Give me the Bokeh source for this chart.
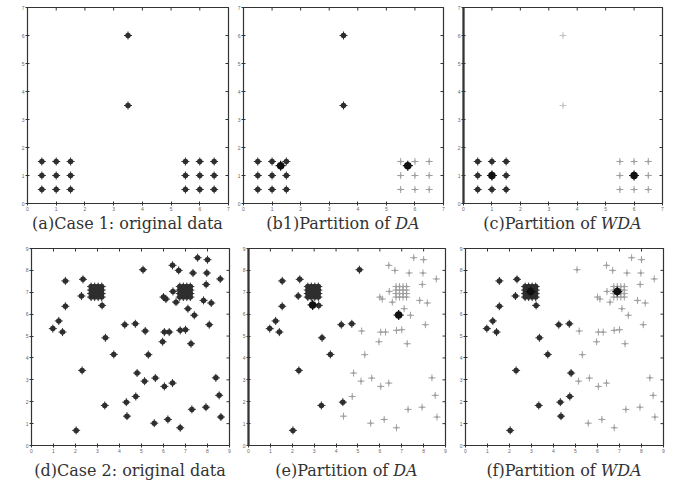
import math
from bokeh.plotting import figure
from bokeh.models import Range1d, FixedTicker, Div
from bokeh.layouts import column, row
from bokeh.embed import file_html
from bokeh.resources import INLINE

# ---------------- data ----------------
case1_ticks = [0, 1, 2, 3, 4, 5, 6, 7]
case2_ticks = [0, 1, 2, 3, 4, 5, 6, 7, 8, 9]

case1_x = [0.5, 1.0, 1.5, 0.5, 1.0, 1.5, 0.5, 1.0, 1.5,
           5.5, 6.0, 6.5, 5.5, 6.0, 6.5, 5.5, 6.0, 6.5,
           3.5, 3.5]
case1_y = [0.5, 0.5, 0.5, 1.0, 1.0, 1.0, 1.5, 1.5, 1.5,
           0.5, 0.5, 0.5, 1.0, 1.0, 1.0, 1.5, 1.5, 1.5,
           3.5, 6.0]
case1_label_b = [0, 0, 0, 0, 0, 0, 0, 0, 0,
                 1, 1, 1, 1, 1, 1, 1, 1, 1,
                 0, 0]
case1_label_c = [0, 0, 0, 0, 0, 0, 0, 0, 0,
                 1, 1, 1, 1, 1, 1, 1, 1, 1,
                 2, 2]
centers_b_x = [1.3, 5.75]
centers_b_y = [1.35, 1.35]
centers_c_x = [1.0, 6.0]
centers_c_y = [1.0, 1.0]

case2_x = [7.55, 8.00, 6.41, 6.69, 5.07, 7.34, 7.97, 8.58, 1.54, 2.34,
           7.94, 2.27, 6.43, 6.00, 6.11, 6.57, 7.82, 8.17, 3.21, 1.54,
           7.11, 7.40, 1.24, 0.97, 1.41, 4.24, 4.72, 5.17, 8.08, 6.04,
           6.26, 6.76, 7.00, 3.36, 5.96, 7.25, 3.74, 5.31, 2.30, 4.80,
           5.14, 5.63, 6.04, 6.41, 8.38, 8.53, 4.74, 4.31, 3.33, 7.29,
           7.93, 8.61, 4.34, 5.58, 6.20, 6.76, 2.03]
case2_y = [8.58, 8.49, 8.23, 8.00, 8.03, 7.88, 7.88, 7.61, 7.52, 7.59,
           7.36, 6.83, 7.04, 6.78, 6.69, 6.55, 6.63, 6.51, 6.40, 6.36,
           6.25, 5.95, 5.69, 5.34, 5.18, 5.52, 5.56, 5.23, 5.52, 5.18,
           5.18, 5.26, 5.29, 4.92, 4.74, 4.65, 4.16, 4.15, 3.43, 3.31,
           2.94, 3.08, 2.70, 2.85, 3.09, 2.29, 2.24, 1.98, 1.83, 1.65,
           1.75, 1.30, 1.34, 1.02, 1.19, 0.81, 0.69]
case2_label_e = [1, 1, 1, 1, 0, 1, 1, 1, 0, 0,
                 1, 0, 1, 1, 1, 1, 1, 1, 0, 0,
                 1, 1, 0, 0, 0, 0, 0, 1, 1, 1,
                 1, 1, 1, 0, 1, 1, 0, 1, 0, 1,
                 1, 1, 1, 1, 1, 1, 1, 0, 0, 1,
                 1, 1, 1, 1, 1, 1, 0]
case2_label_f = [1, 1, 1, 1, 1, 1, 1, 1, 0, 0,
                 1, 0, 1, 1, 1, 1, 1, 1, 0, 0,
                 1, 1, 0, 0, 0, 0, 0, 1, 1, 1,
                 1, 1, 1, 0, 1, 1, 0, 1, 0, 0,
                 1, 1, 1, 1, 1, 1, 0, 0, 0, 1,
                 1, 1, 0, 1, 1, 1, 0]
blob_x = [2.71, 2.87, 3.03, 3.19, 2.71, 2.87, 3.03, 3.19,
          2.71, 2.87, 3.03, 3.19, 2.71, 2.87, 3.03, 3.19,
          6.74, 6.90, 7.06, 7.22, 6.74, 6.90, 7.06, 7.22,
          6.74, 6.90, 7.06, 7.22, 6.74, 6.90, 7.06, 7.22]
blob_y = [6.78, 6.78, 6.78, 6.78, 6.94, 6.94, 6.94, 6.94,
          7.10, 7.10, 7.10, 7.10, 7.26, 7.26, 7.26, 7.26,
          6.78, 6.78, 6.78, 6.78, 6.94, 6.94, 6.94, 6.94,
          7.10, 7.10, 7.10, 7.10, 7.26, 7.26, 7.26, 7.26]
blob_label = [0, 0, 0, 0, 0, 0, 0, 0, 0, 0, 0, 0, 0, 0, 0, 0,
              1, 1, 1, 1, 1, 1, 1, 1, 1, 1, 1, 1, 1, 1, 1, 1]
centers_e_x = [2.93, 6.86]
centers_e_y = [6.42, 5.96]
centers_f_x = [2.96, 6.90]
centers_f_y = [7.03, 7.03]

captions = ["(a)Case 1: original data",
            "(b1)Partition of <i>DA</i>",
            "(c)Partition of <i>WDA</i>",
            "(d)Case 2: original data",
            "(e)Partition of <i>DA</i>",
            "(f)Partition of <i>WDA</i>"]

DARK = "#2e2e2e"
LIGHT = "#a0a0a0"
PALE = "#c4c4c4"
FRAME = "#333333"


def make_panel(fw, fh, L, R, T, B, upper, ticks, left_w=1.0):
    p = figure(frame_width=fw, frame_height=fh,
               x_range=Range1d(0, upper), y_range=Range1d(0, upper),
               output_backend="svg", toolbar_location=None,
               min_border_left=L, min_border_right=R,
               min_border_top=T, min_border_bottom=B)
    p.grid.visible = False
    p.outline_line_color = FRAME
    p.outline_line_width = 1.2
    p.background_fill_color = "white"
    p.border_fill_color = "white"
    for ax in list(p.xaxis) + list(p.yaxis):
        ax.ticker = FixedTicker(ticks=ticks)
        ax.minor_tick_line_color = None
        ax.major_tick_in = 2
        ax.major_tick_out = 2
        ax.major_label_text_font_size = "5px"
        ax.major_label_standoff = 1
        ax.major_label_text_color = "#666666"
        ax.axis_line_color = FRAME
        ax.major_tick_line_color = FRAME
    p.yaxis.axis_line_width = left_w
    # inward tick marks on the top and right edges (half clipped by the frame)
    n = len(ticks)
    p.scatter(ticks, [upper] * n, marker="dash", angle=math.pi / 2, size=6,
              line_color=FRAME, line_width=1)
    p.scatter([upper] * n, ticks, marker="dash", size=6,
              line_color=FRAME, line_width=1)
    return p


def dark_pts(p, xs, ys):
    p.scatter(xs, ys, marker="cross", size=8, line_color=DARK, line_width=1.0)
    p.scatter(xs, ys, marker="circle", size=5.5, fill_color=DARK, line_color=None)


def light_pts(p, xs, ys, color=LIGHT):
    p.scatter(xs, ys, marker="cross", size=7, line_color=color, line_width=1.0)
    p.scatter(xs, ys, marker="circle", size=2.5, fill_color=color, line_color=None)


def centers(p, xs, ys):
    p.scatter(xs, ys, marker="circle", size=7.5, fill_color="#111111", line_color=None)
    p.scatter(xs, ys, marker="cross", size=10, line_color="#111111", line_width=1.2)


def pick(xs, labels, k):
    return [v for v, l in zip(xs, labels) if l == k]


def caption(text, width, L, fw, height, pad):
    html = ('<div style="width:%dpx;margin-left:%dpx;text-align:center;'
            'font-family:\'DejaVu Serif\';font-size:16px;color:#333;'
            'line-height:20px;padding-top:%dpx;white-space:nowrap">%s</div>'
            % (fw, L, pad, text))
    return Div(text=html, width=width, height=height, margin=(0, 0, 0, 0))


# ---------------- row 1 ----------------
fa = make_panel(201, 196, 27, 6, 7, 10, 7, case1_ticks)
dark_pts(fa, case1_x, case1_y)

fb = make_panel(200, 196, 9, 6, 7, 10, 7, case1_ticks)
dark_pts(fb, pick(case1_x, case1_label_b, 0), pick(case1_y, case1_label_b, 0))
light_pts(fb, pick(case1_x, case1_label_b, 1), pick(case1_y, case1_label_b, 1))
centers(fb, centers_b_x, centers_b_y)

fc = make_panel(199, 196, 14, 6, 7, 10, 7, case1_ticks, left_w=2.2)
dark_pts(fc, pick(case1_x, case1_label_c, 0), pick(case1_y, case1_label_c, 0))
light_pts(fc, pick(case1_x, case1_label_c, 1), pick(case1_y, case1_label_c, 1))
light_pts(fc, pick(case1_x, case1_label_c, 2), pick(case1_y, case1_label_c, 2), PALE)
centers(fc, centers_c_x, centers_c_y)

# ---------------- row 2 ----------------
fd = make_panel(198, 197, 31, 6, 2, 10, 9, case2_ticks)
dark_pts(fd, case2_x + blob_x, case2_y + blob_y)

fe = make_panel(197, 197, 13, 6, 2, 10, 9, case2_ticks, left_w=2.2)
dark_pts(fe, pick(case2_x, case2_label_e, 0) + pick(blob_x, blob_label, 0),
         pick(case2_y, case2_label_e, 0) + pick(blob_y, blob_label, 0))
light_pts(fe, pick(case2_x, case2_label_e, 1) + pick(blob_x, blob_label, 1),
          pick(case2_y, case2_label_e, 1) + pick(blob_y, blob_label, 1))
centers(fe, centers_e_x, centers_e_y)

ff = make_panel(198, 197, 14, 6, 2, 10, 9, case2_ticks)
dark_pts(ff, pick(case2_x, case2_label_f, 0) + pick(blob_x, blob_label, 0),
         pick(case2_y, case2_label_f, 0) + pick(blob_y, blob_label, 0))
light_pts(ff, pick(case2_x, case2_label_f, 1) + pick(blob_x, blob_label, 1),
          pick(case2_y, case2_label_f, 1) + pick(blob_y, blob_label, 1))
centers(ff, centers_f_x, centers_f_y)

ca = caption(captions[0], 234, 27, 201, 33, 1)
cb = caption(captions[1], 215, 9, 200, 33, 1)
cc = caption(captions[2], 219, 14, 199, 33, 1)
cd = caption(captions[3], 235, 31, 198, 26, 6)
ce = caption(captions[4], 216, 13, 197, 26, 6)
cf = caption(captions[5], 218, 14, 198, 26, 6)

layout = column(row(fa, fb, fc), row(ca, cb, cc), row(fd, fe, ff), row(cd, ce, cf))

open("out.html", "w").write(file_html(layout, INLINE))
